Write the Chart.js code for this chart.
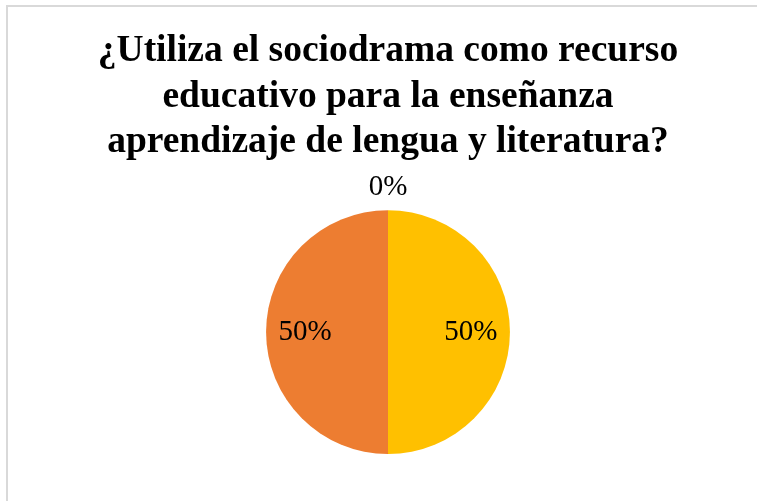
<!DOCTYPE html>
<html>
<head>
<meta charset="utf-8">
<script src="https://cdn.jsdelivr.net/npm/chart.js@4/dist/chart.umd.min.js"></script>
<style>
    html, body { margin: 0; padding: 0; background: #fff; }
    #wrap { position: relative; width: 757px; height: 501px; overflow: hidden; }
    #frame {
        position: absolute; left: 6px; top: 5px; right: -10px; bottom: -10px;
        border-top: 2px solid #d9d9d9; border-left: 2px solid #d9d9d9;
        pointer-events: none;
    }
    canvas { position: absolute; left: 0; top: 0; }
</style>
</head>
<body>
<div id="wrap">
    <canvas id="pieChart" width="757" height="501"></canvas>
    <div id="frame"></div>
</div>
<script>
// chart data
const titleLines = [
    '¿Utiliza el sociodrama como recurso',
    'educativo para la enseñanza',
    'aprendizaje de lengua y literatura?'
];
const categories = ['Siempre', 'A veces', 'Nunca'];
const percentValues = [50, 50, 0];
const sliceColors = ['#FFC000', '#ED7D31', '#A5A5A5'];

// draws the percentage labels (inside for real slices, above for empty ones)
const sliceLabels = {
    id: 'sliceLabels',
    afterDatasetsDraw(chart) {
        const ctx = chart.ctx;
        const meta = chart.getDatasetMeta(0);
        const data = chart.data.datasets[0].data;
        const total = data.reduce((a, b) => a + b, 0);
        ctx.save();
        ctx.font = '29px "Liberation Serif", serif';
        ctx.fillStyle = '#000';
        ctx.textAlign = 'center';
        ctx.textBaseline = 'middle';
        meta.data.forEach(function (arc, i) {
            const p = arc.getProps(['x', 'y', 'startAngle', 'endAngle', 'outerRadius'], true);
            const mid = (p.startAngle + p.endAngle) / 2;
            const r = data[i] > 0 ? p.outerRadius * 0.68 : p.outerRadius + 23;
            const pct = Math.round(data[i] / total * 100) + '%';
            ctx.fillText(pct, p.x + Math.cos(mid) * r, p.y + Math.sin(mid) * r);
        });
        ctx.restore();
    }
};

const ctx = document.getElementById('pieChart').getContext('2d');
new Chart(ctx, {
    type: 'pie',
    data: {
        labels: categories,
        datasets: [{
            data: percentValues,
            backgroundColor: sliceColors,
            borderWidth: 0
        }]
    },
    options: {
        responsive: false,
        animation: false,
        layout: { padding: { left: 19, bottom: 47 } },
        plugins: {
            legend: { display: false },
            tooltip: { enabled: false },
            title: {
                display: true,
                text: titleLines,
                color: '#000',
                font: { family: '"Liberation Serif", serif', size: 37.5, weight: 'bold', lineHeight: 1.21 },
                padding: { top: 29, bottom: 45 }
            }
        }
    },
    plugins: [sliceLabels]
});
</script>
</body>
</html>
